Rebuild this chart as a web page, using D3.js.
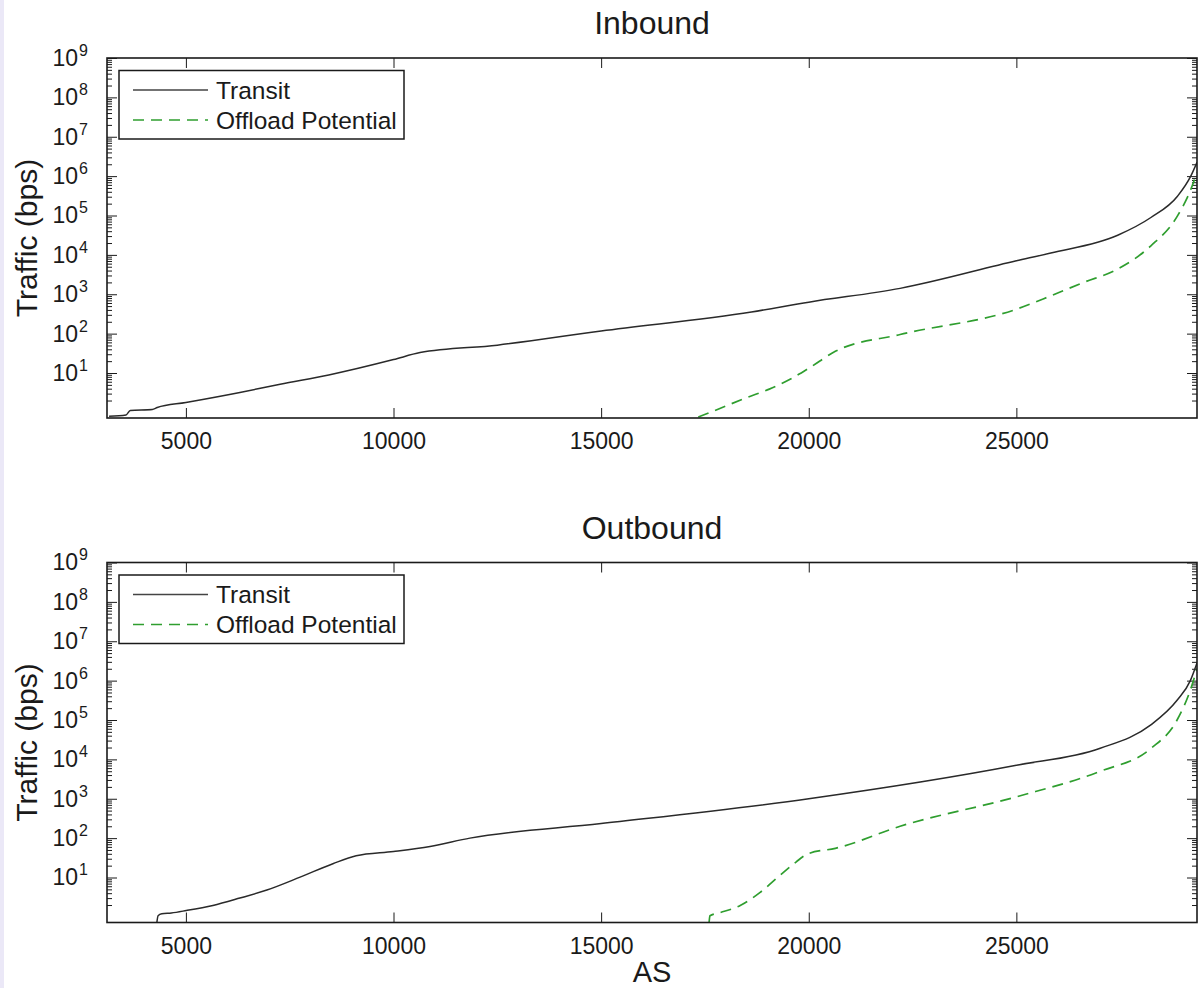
<!DOCTYPE html>
<html>
<head>
<meta charset="utf-8">
<script src="https://cdn.jsdelivr.net/npm/d3@7"></script>
<style>
  html, body { margin: 0; padding: 0; background: #fff; }
  svg { display: block; font-family: "Liberation Sans", Arial, Helvetica, sans-serif; }
</style>
</head>
<body>
<div id="graph"></div>
<script>
// ---- data ----
const panelTitles = ["Inbound", "Outbound"];
const seriesNames = ["Transit", "Offload Potential"];
const xTickValues = [5000, 10000, 15000, 20000, 25000];
const yTickExponents = [1, 2, 3, 4, 5, 6, 7, 8, 9];

// Inbound
const inboundTransitAS = [3150, 3560, 3660, 4190, 4310, 5000, 6300, 7270, 8440, 10000, 10640, 12500, 15000, 18620, 20000, 22200, 25000, 25830, 27440, 28240, 28880, 29200, 29350];
const inboundTransit   = [0.80, 0.86, 1.12, 1.19, 1.33, 1.78, 3.2, 5.2, 8.9, 21.9, 33, 51, 117, 355, 630, 1410, 7080, 11200, 31600, 89000, 309000, 1000000, 2240000];
const inboundOffloadAS = [17340, 17700, 18470, 19050, 19550, 20030, 20640, 22200, 25000, 25830, 26620, 27440, 28240, 28880, 29200, 29350];
const inboundOffload   = [0.76, 1.07, 2.3, 3.9, 6.9, 13.8, 35.5, 95, 417, 912, 2000, 4370, 17000, 97700, 457000, 1260000];

// Outbound
const outboundTransitAS = [4300, 4330, 4420, 4650, 5010, 5650, 6300, 6950, 7750, 8540, 9100, 10000, 10880, 11840, 15000, 20000, 25000, 27020, 28230, 28870, 29190, 29350];
const outboundTransit   = [0.71, 1.07, 1.2, 1.26, 1.45, 1.95, 3.0, 4.8, 10.2, 22.4, 35.5, 45.7, 61.7, 100, 234, 1000, 7080, 19100, 74100, 316000, 1000000, 2800000];
const outboundOffloadAS = [17600, 17620, 17870, 18350, 18830, 19300, 19700, 19900, 20000, 20640, 22200, 25000, 27020, 28230, 28870, 29190, 29350];
const outboundOffload   = [0.72, 1.07, 1.29, 1.95, 4.2, 11.2, 25, 36, 40.7, 55, 200, 1120, 5000, 18600, 100000, 575000, 2000000];

const xDomain = [3100, 29350];
const yDomain = [0.72, 1e9];

const W = 1198, H = 988;
const left = 107, plotW = 1090, plotH = 360;
const panelTops = [58, 562.5];
const ink = "#1a1a1a";
const green = "#2f9e2f";

const svg = d3.select("#graph").append("svg").attr("width", W).attr("height", H);

// faint strip on the left edge of the screenshot
svg.append("rect").attr("x", 0).attr("y", 0).attr("width", 4).attr("height", H).attr("fill", "#ebe8f7");

const zip = (xs, ys) => xs.map((x, i) => ({ as: x, v: ys[i] }));

drawPanel(0, zip(inboundTransitAS, inboundTransit), zip(inboundOffloadAS, inboundOffload));
drawPanel(1, zip(outboundTransitAS, outboundTransit), zip(outboundOffloadAS, outboundOffload));

// shared x label
svg.append("text")
    .attr("x", left + plotW / 2).attr("y", 982)
    .attr("text-anchor", "middle").attr("font-size", 29).attr("fill", ink)
    .text("AS");

function drawPanel(i, transit, offload) {
    const g = svg.append("g").attr("transform", `translate(${left},${panelTops[i]})`);

    const x = d3.scaleLinear().domain(xDomain).range([0, plotW]);
    const y = d3.scaleLog().domain(yDomain).range([plotH, 0]);

    // clip
    const clipId = "clip" + i;
    g.append("clipPath").attr("id", clipId)
        .append("rect").attr("width", plotW).attr("height", plotH);

    // tick values
    const major = yTickExponents.map(e => Math.pow(10, e));
    const minor = [];
    for (let e = 0; e < 9; e++) {
        for (let k = 2; k <= 9; k++) minor.push(k * Math.pow(10, e));
    }

    // x axes (bottom with labels, top mirrored)
    const xb = g.append("g").attr("transform", `translate(0,${plotH})`)
        .call(d3.axisBottom(x).tickValues(xTickValues).tickSize(-10).tickPadding(15).tickFormat(d3.format("d")));
    const xt = g.append("g")
        .call(d3.axisTop(x).tickValues(xTickValues).tickSize(-10).tickFormat(""));

    // y axes: left major with labels, minor, and right mirrored
    const yl = g.append("g")
        .call(d3.axisLeft(y).tickValues(major).tickSize(-10).tickPadding(19).tickFormat(() => "10"));
    const ylm = g.append("g")
        .call(d3.axisLeft(y).tickValues(minor).tickSize(-5).tickFormat(""));
    const yr = g.append("g").attr("transform", `translate(${plotW},0)`)
        .call(d3.axisRight(y).tickValues(major).tickSize(-10).tickFormat(""));
    const yrm = g.append("g").attr("transform", `translate(${plotW},0)`)
        .call(d3.axisRight(y).tickValues(minor).tickSize(-5).tickFormat(""));

    [xb, xt, yl, ylm, yr, yrm].forEach(a => {
        a.select(".domain").remove();
        a.selectAll(".tick line").attr("stroke", ink).attr("stroke-width", 1);
        a.selectAll(".tick text").attr("fill", ink).attr("font-size", 23)
            .attr("font-family", '"Liberation Sans", Arial, sans-serif');
    });

    // superscript exponents
    yl.selectAll(".tick text").each(function(d) {
        d3.select(this).append("tspan")
            .attr("dy", "-0.62em").attr("dx", "1")
            .attr("font-size", 16)
            .text(Math.round(Math.log10(d)));
    });

    // lines
    const line = d3.line()
        .x(d => x(d.as))
        .y(d => y(d.v))
        .curve(d3.curveMonotoneX);

    const lines = g.append("g").attr("clip-path", `url(#${clipId})`);
    lines.append("path").datum(transit)
        .attr("fill", "none").attr("stroke", "#2a2a2a").attr("stroke-width", 1.5)
        .attr("d", line);
    lines.append("path").datum(offload)
        .attr("fill", "none").attr("stroke", green).attr("stroke-width", 1.7)
        .attr("stroke-dasharray", "11,7")
        .attr("d", line);

    // frame
    g.append("rect").attr("width", plotW).attr("height", plotH)
        .attr("fill", "none").attr("stroke", ink).attr("stroke-width", 1.6);

    // title
    g.append("text")
        .attr("x", plotW / 2).attr("y", -24)
        .attr("text-anchor", "middle").attr("font-size", 32).attr("fill", ink)
        .text(panelTitles[i]);

    // y label
    g.append("text")
        .attr("transform", `translate(${37 - left},${plotH / 2}) rotate(-90)`)
        .attr("text-anchor", "middle").attr("font-size", 30).attr("fill", ink)
        .text("Traffic (bps)");

    // legend
    const lg = g.append("g").attr("transform", "translate(12,12.5)");
    lg.append("rect").attr("width", 285).attr("height", 68.5)
        .attr("fill", "#fff").attr("stroke", ink).attr("stroke-width", 1.5);
    const styles = [
        { stroke: "#444", dash: null },
        { stroke: green, dash: "11,7" }
    ];
    seriesNames.forEach((name, j) => {
        const yy = 19.5 + j * 30;
        lg.append("line")
            .attr("x1", 14).attr("x2", 89).attr("y1", yy).attr("y2", yy)
            .attr("stroke", styles[j].stroke).attr("stroke-width", 1.5)
            .attr("stroke-dasharray", styles[j].dash);
        lg.append("text")
            .attr("x", 97).attr("y", yy).attr("dy", "0.35em")
            .attr("font-size", 24.5).attr("fill", ink)
            .text(name);
    });
}
</script>
</body>
</html>
